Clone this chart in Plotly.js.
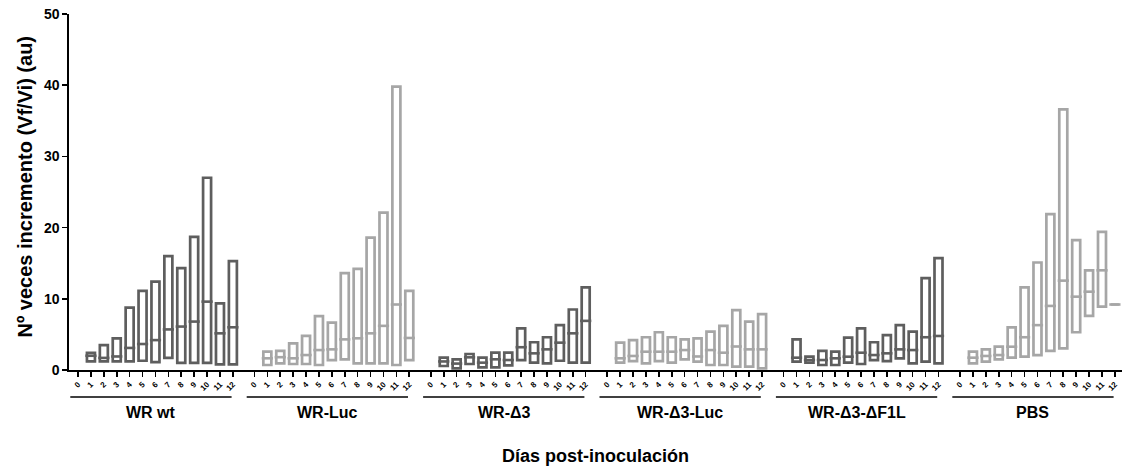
<!DOCTYPE html>
<html>
<head>
<meta charset="utf-8">
<script src="https://cdn.plot.ly/plotly-3.0.1.min.js"></script>
<style>html,body{margin:0;padding:0;background:#fff;}#chart{width:1124px;height:472px;}</style>
</head>
<body>
<div id="chart"></div>
<script>
// ---- Data ----
const days = [0,1,2,3,4,5,6,7,8,9,10,11,12];
const groups = ["WR wt", "WR-Luc", "WR-Δ3", "WR-Δ3-Luc", "WR-Δ3-ΔF1L", "PBS"];

const wrwtMax = [null, 2.4, 3.5, 4.45, 8.75, 11.1, 12.4, 16.0, 14.3, 18.7, 27.0, 9.35, 15.3];
const wrwtMed = [null, 2.0, 1.7, 1.9, 3.1, 3.65, 4.2, 5.7, 6.1, 6.8, 9.6, 5.15, 6.0];
const wrwtMin = [null, 1.2, 1.2, 1.2, 1.2, 1.3, 1.1, 1.7, 1.0, 1.0, 1.0, 0.8, 0.8];

const wrlucMax = [null, 2.57, 2.7, 3.74, 4.78, 7.58, 6.65, 13.6, 14.2, 18.6, 22.1, 39.8, 11.1];
const wrlucMed = [null, 1.64, 1.8, 1.64, 2.1, 2.8, 2.9, 4.3, 4.45, 5.15, 6.2, 9.2, 4.5];
const wrlucMin = [null, 0.7, 0.94, 0.84, 0.84, 0.7, 1.4, 1.5, 0.94, 0.94, 0.94, 0.7, 1.4];

const d3Max = [null, 1.73, 1.5, 2.25, 1.73, 2.43, 2.43, 5.85, 3.9, 4.6, 6.3, 8.5, 11.6];
const d3Med = [null, 1.2, 0.9, 1.78, 1.03, 1.5, 1.4, 3.2, 2.34, 2.9, 3.84, 5.15, 6.9];
const d3Min = [null, 0.56, 0.24, 0.84, 0.38, 0.38, 0.66, 1.4, 1.03, 0.94, 1.3, 1.03, 1.03];

const d3lucMax = [null, 3.84, 4.2, 4.6, 5.3, 4.6, 4.3, 4.45, 5.4, 6.2, 8.4, 6.8, 7.85];
const d3lucMed = [null, 1.64, 1.97, 2.57, 2.57, 2.57, 2.8, 1.9, 2.8, 2.43, 3.3, 2.9, 2.9];
const d3lucMin = [null, 1.03, 1.26, 0.94, 1.26, 1.03, 1.5, 1.17, 0.7, 0.7, 0.47, 0.47, 0.24];

const d3f1lMax = [null, 4.3, 1.87, 2.7, 2.57, 4.54, 5.85, 3.9, 4.9, 6.3, 5.4, 12.9, 15.7];
const d3f1lMed = [null, 1.73, 1.4, 1.4, 1.64, 1.87, 2.43, 2.1, 2.34, 2.9, 2.8, 4.6, 4.78];
const d3f1lMin = [null, 1.17, 1.03, 0.7, 0.7, 1.03, 0.84, 1.4, 1.26, 1.64, 0.94, 1.17, 0.94];

const pbsMax = [null, 2.57, 2.9, 3.27, 6.0, 11.6, 15.1, 21.9, 36.6, 18.25, 14.0, 19.4, 9.2];
const pbsMed = [null, 1.73, 1.97, 2.1, 3.27, 4.6, 6.3, 9.0, 12.55, 10.3, 11.0, 14.0, 9.2];
const pbsMin = [null, 0.94, 1.17, 1.5, 1.73, 1.87, 2.1, 2.7, 3.04, 5.3, 7.6, 8.9, 9.2];

const groupColors = ["#5e5e5e", "#a6a6a6", "#5e5e5e", "#a6a6a6", "#5e5e5e", "#a6a6a6"];

// ---- Build traces ----
const maxes = [wrwtMax, wrlucMax, d3Max, d3lucMax, d3f1lMax, pbsMax];
const meds  = [wrwtMed, wrlucMed, d3Med, d3lucMed, d3f1lMed, pbsMed];
const mins  = [wrwtMin, wrlucMin, d3Min, d3lucMin, d3f1lMin, pbsMin];

const groupStep = 13.67;   // spacing between group starts, in day units
const xOf = (g, d) => g * groupStep + d;
const FONT = "Liberation Sans, Arial, sans-serif";

const traces = [];
const tickvals = [], ticktext = [];
groups.forEach((name, g) => {
  const xs = days.map(d => xOf(g, d));
  days.forEach(d => { tickvals.push(xOf(g, d)); ticktext.push(String(d)); });
  const mx = maxes[g], md = meds[g], mn = mins[g];
  traces.push({
    type: "bar",
    x: xs,
    base: mn,
    y: mx.map((v, i) => v == null ? null : v - mn[i]),
    width: 0.62,
    marker: { color: "rgba(255,255,255,0)", line: { color: groupColors[g], width: 2.7 } },
    hoverinfo: "skip",
    showlegend: false
  });
  traces.push({
    type: "scatter",
    mode: "markers",
    x: xs,
    y: md,
    marker: { symbol: "line-ew", size: 8, color: groupColors[g], line: { color: groupColors[g], width: 2.6 } },
    hoverinfo: "skip",
    showlegend: false
  });
});

// ---- Group underline shapes and labels ----
const shapes = [];
const annotations = [];
groups.forEach((name, g) => {
  const x0 = xOf(g, -0.6), x1 = xOf(g, 11.9);
  shapes.push({ type: "line", xref: "x", yref: "paper", x0: x0, x1: x1, y0: -0.076, y1: -0.076,
                line: { color: "#000", width: 1.6 } });
  annotations.push({ xref: "x", yref: "paper", x: (x0 + x1) / 2, y: -0.118, text: "<b>" + name + "</b>",
                     showarrow: false, xanchor: "center", yanchor: "middle",
                     font: { family: FONT, size: 16, color: "#000" } });
});
annotations.push({ xref: "paper", yref: "paper", x: 0.5, y: -0.242, text: "<b>Días post-inoculación</b>",
                   showarrow: false, xanchor: "center", yanchor: "middle",
                   font: { family: FONT, size: 18, color: "#000" } });
annotations.push({ xref: "paper", yref: "paper", x: -0.042, y: 0.515, text: "<b>Nº veces incremento (Vf/Vi) (au)</b>",
                   showarrow: false, xanchor: "center", yanchor: "middle", textangle: -90,
                   font: { family: FONT, size: 20, color: "#000" } });

const layout = {
  width: 1124, height: 472,
  margin: { l: 69, r: 2, t: 14, b: 102 },
  paper_bgcolor: "#fff", plot_bgcolor: "#fff",
  barmode: "overlay",
  showlegend: false,
  xaxis: {
    range: [-0.7, 80.9], showgrid: false, zeroline: false,
    showline: true, linecolor: "#000", linewidth: 1.6,
    ticks: "outside", ticklen: 5, tickwidth: 1.6, tickcolor: "#000",
    tickmode: "array", tickvals: tickvals, ticktext: ticktext, tickangle: -45,
    tickfont: { family: FONT, size: 8, color: "#000", weight: "bold" }
  },
  yaxis: {
    range: [0, 50], dtick: 10, showgrid: false, zeroline: false,
    showline: true, linecolor: "#000", linewidth: 1.6,
    ticks: "outside", ticklen: 5, tickwidth: 1.6, tickcolor: "#000",
    tickfont: { family: FONT, size: 14, color: "#000", weight: "bold" }
  },
  shapes: shapes,
  annotations: annotations
};

Plotly.newPlot("chart", traces, layout, { staticPlot: true, displayModeBar: false });
</script>
</body>
</html>
